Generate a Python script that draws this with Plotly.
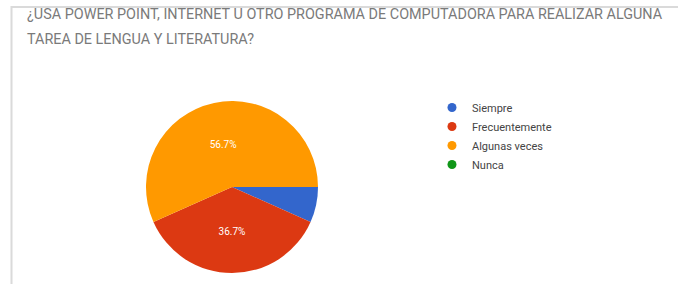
import plotly.graph_objects as go

categories = ["Siempre", "Frecuentemente", "Algunas veces", "Nunca"]
counts = [2, 11, 17, 0]
colors = ["#3366cc", "#dc3912", "#ff9900", "#109618"]
title_lines = [
    "¿USA POWER POINT, INTERNET U OTRO PROGRAMA DE COMPUTADORA PARA REALIZAR ALGUNA",
    "TAREA DE LENGUA Y LITERATURA?",
]

W, H = 678, 284

fig = go.Figure()
fig.add_trace(go.Pie(
    labels=categories,
    values=counts,
    marker=dict(colors=colors, line=dict(color="white", width=0)),
    sort=False,
    direction="clockwise",
    rotation=90,
    texttemplate=["" if c / sum(counts) < 0.1 else "%{percent:.1%}" for c in counts],
    textposition="inside",
    insidetextorientation="horizontal",
    textfont=dict(color="white", size=10, family="Roboto"),
    showlegend=False,
    hoverinfo="label+percent",
    domain=dict(x=[146 / W, 318 / W], y=[1 - 273 / H, 1 - 101 / H]),
))

for name, col in zip(categories, colors):
    fig.add_trace(go.Scatter(
        x=[None], y=[None], mode="markers", name=name,
        marker=dict(color=col, size=9, symbol="circle"),
        showlegend=True,
    ))

annotations = []
for i, line in enumerate(title_lines):
    annotations.append(dict(
        text=line, xref="paper", yref="paper",
        x=25 / W, y=1 - (14 + 25 * i) / H,
        xanchor="left", yanchor="middle", showarrow=False,
        font=dict(family="Roboto", size=14.4, color="#7a7a7a"),
    ))

shapes = [
    dict(type="line", xref="paper", yref="paper",
         x0=11 / W, x1=1, y0=1 - 7 / H, y1=1 - 7 / H,
         line=dict(color="#dadada", width=2)),
    dict(type="line", xref="paper", yref="paper",
         x0=11.5 / W, x1=11.5 / W, y0=0, y1=1 - 6 / H,
         line=dict(color="#dadada", width=2)),
]

fig.update_layout(
    width=W, height=H,
    margin=dict(l=0, r=0, t=0, b=0),
    paper_bgcolor="white", plot_bgcolor="white",
    xaxis=dict(visible=False), yaxis=dict(visible=False),
    annotations=annotations,
    shapes=shapes,
    legend=dict(
        x=432 / W, y=1 - 93 / H, xanchor="left", yanchor="top",
        font=dict(family="Roboto", size=11, color="#444444"),
        itemwidth=30, tracegroupgap=0,
        bgcolor="rgba(0,0,0,0)",
    ),
)

fig.write_html(
    "out.html",
    config={"displayModeBar": False},
    post_script="document.body.style.margin='0';document.body.style.overflow='hidden';",
)
